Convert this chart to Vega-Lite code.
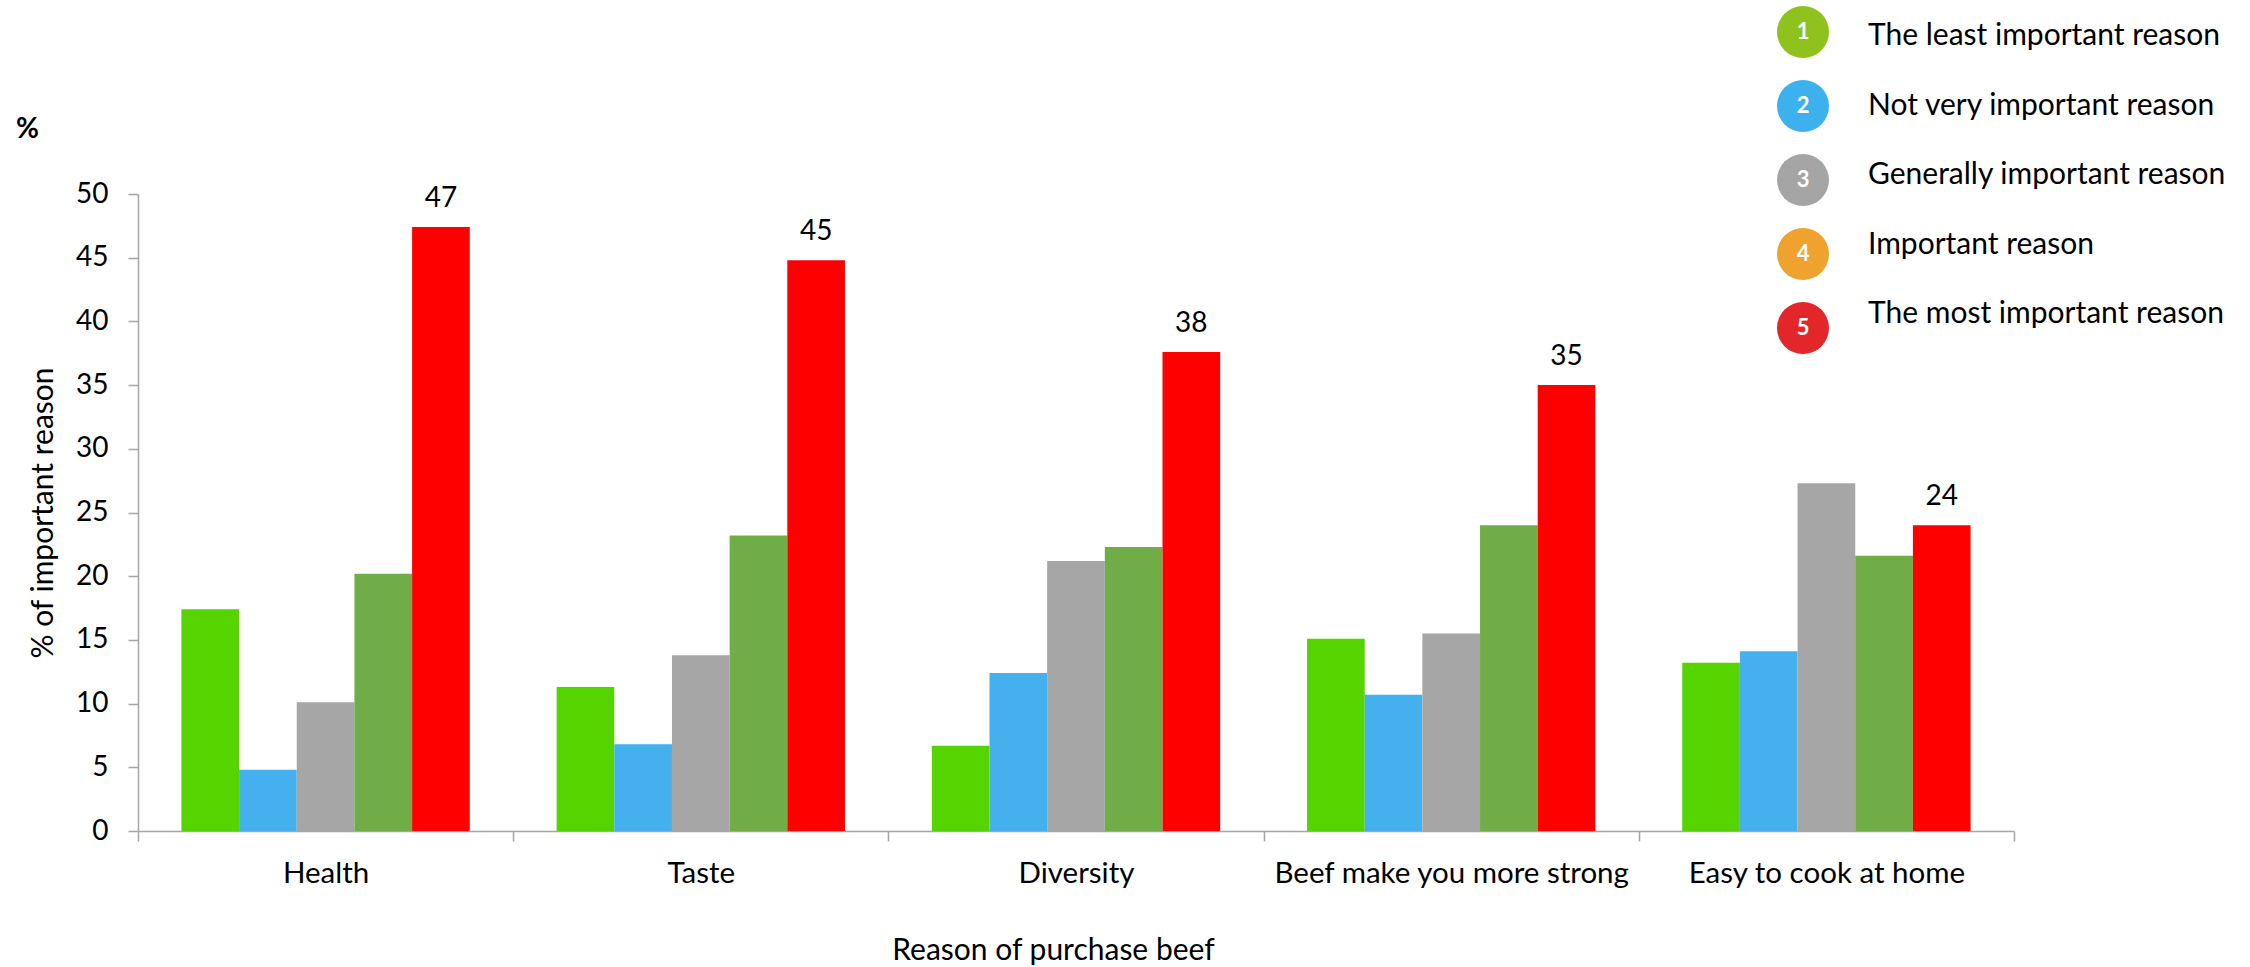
{
  "$schema": "https://vega.github.io/schema/vega-lite/v6.json",
  "autosize": {"type": "none"},
  "width": 1876,
  "height": 637,
  "padding": {"left": 138, "top": 194, "right": 236, "bottom": 136},
  "background": "white",
  "config": {"view": {"stroke": null}, "font": "Lato"},
  "title": {"text": "%", "anchor": "start", "frame": "group", "baseline": "top", "offset": -138, "dx": -122, "fontSize": 28, "fontWeight": "bold", "color": "#000000", "font": "Lato"},
  "datasets": {
    "bars": [
      {"reason": "Health", "level": "The least important reason", "value": 17.4},
      {"reason": "Health", "level": "Not very important reason", "value": 4.8},
      {"reason": "Health", "level": "Generally important reason", "value": 10.1},
      {"reason": "Health", "level": "Important reason", "value": 20.2},
      {"reason": "Health", "level": "The most important reason", "value": 47.4},
      {"reason": "Taste", "level": "The least important reason", "value": 11.3},
      {"reason": "Taste", "level": "Not very important reason", "value": 6.8},
      {"reason": "Taste", "level": "Generally important reason", "value": 13.8},
      {"reason": "Taste", "level": "Important reason", "value": 23.2},
      {"reason": "Taste", "level": "The most important reason", "value": 44.8},
      {"reason": "Diversity", "level": "The least important reason", "value": 6.7},
      {"reason": "Diversity", "level": "Not very important reason", "value": 12.4},
      {"reason": "Diversity", "level": "Generally important reason", "value": 21.2},
      {"reason": "Diversity", "level": "Important reason", "value": 22.3},
      {"reason": "Diversity", "level": "The most important reason", "value": 37.6},
      {"reason": "Beef make you more strong", "level": "The least important reason", "value": 15.1},
      {"reason": "Beef make you more strong", "level": "Not very important reason", "value": 10.7},
      {"reason": "Beef make you more strong", "level": "Generally important reason", "value": 15.5},
      {"reason": "Beef make you more strong", "level": "Important reason", "value": 24.0},
      {"reason": "Beef make you more strong", "level": "The most important reason", "value": 35.0},
      {"reason": "Easy to cook at home", "level": "The least important reason", "value": 13.2},
      {"reason": "Easy to cook at home", "level": "Not very important reason", "value": 14.1},
      {"reason": "Easy to cook at home", "level": "Generally important reason", "value": 27.3},
      {"reason": "Easy to cook at home", "level": "Important reason", "value": 21.6},
      {"reason": "Easy to cook at home", "level": "The most important reason", "value": 24.0}
    ],
    "legend": [
      {"rank": "1", "label": "The least important reason"},
      {"rank": "2", "label": "Not very important reason"},
      {"rank": "3", "label": "Generally important reason"},
      {"rank": "4", "label": "Important reason"},
      {"rank": "5", "label": "The most important reason"}
    ]
  },
  "layer": [
    {
      "data": {"name": "bars"},
      "encoding": {
        "x": {
          "field": "reason", "type": "nominal",
          "scale": {"domain": ["Health", "Taste", "Diversity", "Beef make you more strong", "Easy to cook at home"], "paddingInner": 0, "paddingOuter": 0},
          "axis": {
            "title": "Reason of purchase beef", "titleFont": "Lato", "titleFontSize": 30, "titleFontWeight": "normal", "titleColor": "#000000",
            "titleX": 915, "titleY": 104, "titleBaseline": "top", "titleAlign": "center",
            "labelAngle": 0, "labelFont": "Lato", "labelFontSize": 29.5, "labelColor": "#000000", "labelPadding": 18, "labelLimit": 0,
            "tickSize": 10, "tickBand": "extent", "tickColor": "#A6A6A6", "tickWidth": 1.5,
            "domainColor": "#A6A6A6", "domainWidth": 1.5, "grid": false
          }
        },
        "xOffset": {
          "field": "level", "type": "nominal",
          "scale": {"domain": ["The least important reason", "Not very important reason", "Generally important reason", "Important reason", "The most important reason"], "paddingInner": 0, "paddingOuter": 0.753}
        },
        "y": {
          "field": "value", "type": "quantitative",
          "scale": {"domain": [0, 50], "nice": false},
          "axis": {
            "values": [0, 5, 10, 15, 20, 25, 30, 35, 40, 45, 50],
            "title": "% of important reason", "titleFont": "Lato", "titleFontSize": 30, "titleFontWeight": "normal", "titleColor": "#000000",
            "titleX": -95, "titleY": 318.5, "titleAngle": -90, "titleBaseline": "middle", "titleAlign": "center",
            "labelFont": "Lato", "labelFontSize": 28, "labelColor": "#000000", "labelPadding": 20,
            "tickSize": 10, "tickColor": "#A6A6A6", "tickWidth": 1.5,
            "domainColor": "#A6A6A6", "domainWidth": 1.5, "grid": false
          }
        }
      },
      "layer": [
        {
          "mark": {"type": "bar"},
          "encoding": {
            "color": {
              "field": "level", "type": "nominal",
              "scale": {"domain": ["The least important reason", "Not very important reason", "Generally important reason", "Important reason", "The most important reason"], "range": ["#55D400", "#45B0EE", "#A6A6A6", "#70AD47", "#FF0000"]},
              "legend": null
            }
          }
        },
        {
          "transform": [{"filter": "datum.level === 'The most important reason'"}],
          "mark": {"type": "text", "baseline": "alphabetic", "align": "center", "dy": -20, "fontSize": 28, "font": "Lato", "color": "#000000"},
          "encoding": {"text": {"field": "value", "type": "quantitative", "format": ".0f"}}
        }
      ]
    },
    {
      "data": {"name": "legend"},
      "layer": [
        {
          "encoding": {
            "x": {"datum": "circle", "type": "nominal", "scale": {"type": "point", "domain": ["circle", "label"], "range": [1665, 1730], "padding": 0}, "axis": null},
            "y": {"field": "rank", "type": "ordinal", "scale": {"type": "point", "domain": ["1", "2", "3", "4", "5"], "range": [-162, 134], "padding": 0}, "axis": null}
          },
          "layer": [
            {
              "mark": {"type": "point", "filled": true, "size": 2704, "opacity": 1},
              "encoding": {
                "color": {"field": "rank", "type": "nominal", "scale": {"domain": ["1", "2", "3", "4", "5"], "range": ["#8FC21C", "#3DB0EE", "#A5A5A5", "#F0A22E", "#E2262A"]}, "legend": null}
              }
            },
            {
              "mark": {"type": "text", "color": "#FFFFFF", "fontSize": 22, "fontWeight": "bold", "font": "Lato", "baseline": "middle", "align": "center"},
              "encoding": {"text": {"field": "rank"}}
            }
          ]
        },
        {
          "mark": {"type": "text", "align": "left", "baseline": "middle", "fontSize": 30, "font": "Lato", "color": "#000000"},
          "encoding": {
            "x": {"datum": "label", "type": "nominal", "scale": {"type": "point", "domain": ["circle", "label"], "range": [1665, 1730], "padding": 0}, "axis": null},
            "y": {"field": "rank", "type": "ordinal", "scale": {"type": "point", "domain": ["1", "2", "3", "4", "5"], "range": [-158, 120], "padding": 0}, "axis": null},
            "text": {"field": "label"}
          }
        }
      ],
      "resolve": {"scale": {"y": "independent"}}
    }
  ],
  "resolve": {"scale": {"x": "independent", "y": "independent", "color": "independent"}, "axis": {"x": "independent", "y": "independent"}}
}
